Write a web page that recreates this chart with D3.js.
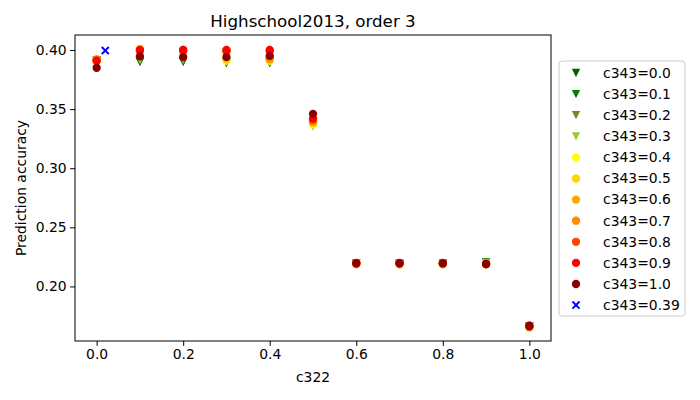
<!DOCTYPE html>
<html>
<head>
<meta charset="utf-8">
<script src="https://cdn.jsdelivr.net/npm/d3@7"></script>
<style>
  body { margin: 0; background: #fff; }
  text { font-family: "DejaVu Sans", sans-serif; }
</style>
</head>
<body>
<div class="canvas"></div>
<script>
// c322 values on the x axis
const c322 = [0.0, 0.1, 0.2, 0.3, 0.4, 0.5, 0.6, 0.7, 0.8, 0.9, 1.0];

// one accuracy series per c343 value
const acc00 = [0.391, 0.390, 0.390, 0.389, 0.389, 0.336, 0.2195, 0.219, 0.2195, 0.2205, 0.1665];
const acc01 = [0.391, 0.390, 0.390, 0.389, 0.389, 0.336, 0.2195, 0.219, 0.2195, 0.2205, 0.1665];
const acc02 = [0.391, 0.391, 0.391, 0.390, 0.390, 0.336, 0.2195, 0.219, 0.2195, 0.220, 0.1665];
const acc03 = [0.391, 0.392, 0.392, 0.390, 0.390, 0.336, 0.2195, 0.219, 0.2195, 0.220, 0.1665];
const acc04 = [0.391, 0.401, 0.399, 0.391, 0.391, 0.337, 0.219, 0.219, 0.219, 0.219, 0.1655];
const acc05 = [0.391, 0.401, 0.399, 0.392, 0.392, 0.338, 0.219, 0.219, 0.219, 0.219, 0.1655];
const acc06 = [0.392, 0.399, 0.400, 0.399, 0.392, 0.339, 0.219, 0.219, 0.219, 0.219, 0.1655];
const acc07 = [0.392, 0.399, 0.399, 0.399, 0.393, 0.340, 0.219, 0.219, 0.219, 0.219, 0.166];
const acc08 = [0.391, 0.400, 0.400, 0.399, 0.399, 0.341, 0.2195, 0.2195, 0.2195, 0.219, 0.166];
const acc09 = [0.391, 0.400, 0.400, 0.400, 0.400, 0.342, 0.220, 0.220, 0.220, 0.219, 0.167];
const acc10 = [0.385, 0.3946, 0.394, 0.394, 0.395, 0.346, 0.2195, 0.2195, 0.2195, 0.219, 0.1665];

// the extra c343=0.39 run
const extraX = [0.02];
const extraY = [0.3995];

const seriesNames = ['c343=0.0', 'c343=0.1', 'c343=0.2', 'c343=0.3', 'c343=0.4', 'c343=0.5',
  'c343=0.6', 'c343=0.7', 'c343=0.8', 'c343=0.9', 'c343=1.0'];
const seriesValues = [acc00, acc01, acc02, acc03, acc04, acc05, acc06, acc07, acc08, acc09, acc10];
const seriesColors = ['#006400', '#008000', '#6b8e23', '#9acd32', '#ffff00', '#ffd700',
  '#ffa500', '#ff8c00', '#ff4500', '#ff0000', '#8b0000'];
const seriesShapes = ['v', 'v', 'v', 'v', 'o', 'o', 'o', 'o', 'o', 'o', 'o'];

const yTicks = [0.20, 0.25, 0.30, 0.35, 0.40];
const xTicks = [0.0, 0.2, 0.4, 0.6, 0.8, 1.0];

const width = 700, height = 400;
const margin = { left: 75, right: 149, top: 35, bottom: 59 };

const svg = d3.select('.canvas')
  .append('svg')
  .attr('width', width)
  .attr('height', height);

const x = d3.scaleLinear().domain([-0.05, 1.05]).range([margin.left, width - margin.right]);
const y = d3.scaleLinear().domain([0.15385, 0.4127]).range([height - margin.bottom, margin.top]);

// markers
const ms = 8.3;
function markerPath(shape, s) {
  const h = s / 2;
  if (shape === 'v') return `M${-h},${-h}L${h},${-h}L0,${h}Z`;
  if (shape === 'x') {
    const k = h * 0.85;
    return `M${-k},${-k}L${k},${k}M${-k},${k}L${k},${-k}`;
  }
  return d3.symbol(d3.symbolCircle, Math.PI * h * h)();
}

const plot = svg.append('g');

seriesValues.forEach((vals, i) => {
  plot.selectAll(null)
    .data(vals)
    .enter()
    .append('path')
    .attr('transform', (d, j) => `translate(${x(c322[j])},${y(d)})`)
    .attr('d', markerPath(seriesShapes[i], ms))
    .attr('fill', seriesColors[i]);
});

plot.selectAll(null)
  .data(extraY)
  .enter()
  .append('path')
  .attr('transform', (d, j) => `translate(${x(extraX[j])},${y(d)})`)
  .attr('d', markerPath('x', ms))
  .attr('fill', 'none')
  .attr('stroke', '#0000ff')
  .attr('stroke-width', 2);

// axes
const xAxis = svg.append('g')
  .attr('transform', `translate(0,${height - margin.bottom})`)
  .call(d3.axisBottom(x).tickValues(xTicks).tickFormat(d3.format('.1f')).tickSize(4.9).tickPadding(3.5));
const yAxis = svg.append('g')
  .attr('transform', `translate(${margin.left},0)`)
  .call(d3.axisLeft(y).tickValues(yTicks).tickFormat(d3.format('.2f')).tickSize(4.9).tickPadding(3.5));

[xAxis, yAxis].forEach(a => {
  a.select('.domain').remove();
  a.selectAll('text').attr('font-size', '13.9px').attr('fill', '#000')
    .attr('font-family', '"DejaVu Sans", sans-serif');
  a.selectAll('line').attr('stroke', '#000').attr('stroke-width', 1);
});

svg.append('rect')
  .attr('x', margin.left)
  .attr('y', margin.top)
  .attr('width', width - margin.left - margin.right)
  .attr('height', height - margin.top - margin.bottom)
  .attr('fill', 'none')
  .attr('stroke', '#000')
  .attr('stroke-width', 1);

// titles
svg.append('text')
  .attr('x', (margin.left + width - margin.right) / 2)
  .attr('y', 27)
  .attr('text-anchor', 'middle')
  .attr('font-size', '16.7px')
  .text('Highschool2013, order 3');

svg.append('text')
  .attr('x', (margin.left + width - margin.right) / 2)
  .attr('y', 382)
  .attr('text-anchor', 'middle')
  .attr('font-size', '13.9px')
  .text('c322');

svg.append('text')
  .attr('transform', `translate(26,${(margin.top + height - margin.bottom) / 2}) rotate(-90)`)
  .attr('text-anchor', 'middle')
  .attr('font-size', '13.9px')
  .text('Prediction accuracy');

// legend
const legendNames = seriesNames.concat(['c343=0.39']);
const legendColors = seriesColors.concat(['#0000ff']);
const legendShapes = seriesShapes.concat(['x']);

const legend = svg.append('g').attr('transform', 'translate(559,61)');
legend.append('rect')
  .attr('width', 126)
  .attr('height', 255)
  .attr('rx', 3)
  .attr('fill', '#fff')
  .attr('fill-opacity', 0.8)
  .attr('stroke', '#cccccc');

const items = legend.selectAll('.item')
  .data(legendNames)
  .enter()
  .append('g')
  .attr('class', 'item')
  .attr('transform', (d, i) => `translate(0,${12 + i * 21.1})`);

items.append('path')
  .attr('transform', 'translate(17,0)')
  .attr('d', (d, i) => markerPath(legendShapes[i], ms))
  .attr('fill', (d, i) => legendShapes[i] === 'x' ? 'none' : legendColors[i])
  .attr('stroke', (d, i) => legendShapes[i] === 'x' ? legendColors[i] : 'none')
  .attr('stroke-width', 2);

items.append('text')
  .attr('x', 44)
  .attr('dy', '0.35em')
  .attr('font-size', '13.9px')
  .text(d => d);
</script>
</body>
</html>
